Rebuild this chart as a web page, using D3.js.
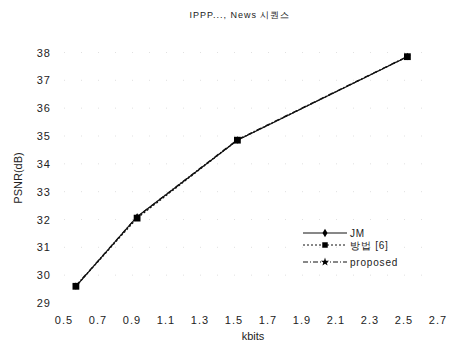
<!DOCTYPE html>
<html>
<head>
<meta charset="utf-8">
<script src="https://cdn.jsdelivr.net/npm/d3@7"></script>
<style>
  body { margin: 0; background: #fff; }
  text { font-family: "Liberation Sans", Arial, sans-serif; fill: #222; }
</style>
</head>
<body>
<div id="chartbox"></div>
<script>
const kbits = [0.57, 0.93, 1.52, 2.52]
const jm = [29.6, 32.1, 34.85, 37.85]
const method6 = [29.6, 32.05, 34.85, 37.85]
const proposed = [29.62, 32.1, 34.87, 37.86]
const xTicks = [0.5, 0.7, 0.9, 1.1, 1.3, 1.5, 1.7, 1.9, 2.1, 2.3, 2.5, 2.7]
const yTicks = [29, 30, 31, 32, 33, 34, 35, 36, 37, 38]
const seriesNames = ['JM', '방법 [6]', 'proposed']

const svg = d3.select('#chartbox')
  .append('svg')
  .attr('width', 458)
  .attr('height', 343)

const x = d3.scaleLinear().domain([0.5, 2.7]).range([64, 438])
const y = d3.scaleLinear().domain([29, 38]).range([303, 52.5])

// faint dotted grid, like the scan
svg.append('g')
  .selectAll('line')
  .data(yTicks.slice(1))
  .enter()
  .append('line')
  .attr('x1', x(0.5))
  .attr('x2', x(2.7))
  .attr('y1', d => y(d))
  .attr('y2', d => y(d))
  .attr('stroke', '#ccc')
  .attr('stroke-width', 0.6)
  .attr('stroke-dasharray', '1,16')

// title
svg.append('text')
  .attr('x', 240)
  .attr('y', 18)
  .attr('text-anchor', 'middle')
  .attr('font-size', 9)
  .attr('letter-spacing', 1)
  .attr('fill', '#444')
  .text('IPPP..., News 시퀀스')

// y tick labels
svg.append('g')
  .selectAll('text')
  .data(yTicks)
  .enter()
  .append('text')
  .attr('x', 51)
  .attr('y', d => y(d) + 4)
  .attr('text-anchor', 'end')
  .attr('font-size', 11)
  .attr('letter-spacing', 1)
  .text(d => d)

// x tick labels
svg.append('g')
  .selectAll('text')
  .data(xTicks)
  .enter()
  .append('text')
  .attr('x', d => x(d))
  .attr('y', 324)
  .attr('text-anchor', 'middle')
  .attr('font-size', 11)
  .attr('letter-spacing', 1)
  .text(d => d.toFixed(1))

svg.append('text')
  .attr('x', 253)
  .attr('y', 340)
  .attr('text-anchor', 'middle')
  .attr('font-size', 11)
  .text('kbits')

svg.append('text')
  .attr('transform', 'translate(22,178) rotate(-90)')
  .attr('text-anchor', 'middle')
  .attr('font-size', 11)
  .text('PSNR(dB)')

const line = d3.line()
  .x(d => x(d[0]))
  .y(d => y(d[1]))

const series = [
  { name: seriesNames[0], values: jm, dash: null, marker: 'diamond' },
  { name: seriesNames[1], values: method6, dash: '2,2', marker: 'square' },
  { name: seriesNames[2], values: proposed, dash: '5,2,1,2', marker: 'star' }
]

const symbolOf = m => m === 'diamond' ? d3.symbolDiamond : m === 'square' ? d3.symbolSquare : d3.symbolStar

series.forEach(s => {
  svg.append('path')
    .datum(kbits.map((k, i) => [k, s.values[i]]))
    .attr('d', line)
    .attr('fill', 'none')
    .attr('stroke', '#111')
    .attr('stroke-width', 1.2)
    .attr('stroke-dasharray', s.dash)
})

// markers: squares drawn last, they cover the others in the picture
;[series[0], series[2], series[1]].forEach(s => {
  svg.append('g')
    .selectAll('path')
    .data(kbits.map((k, i) => [k, s.values[i]]))
    .enter()
    .append('path')
    .attr('transform', d => 'translate(' + x(d[0]) + ',' + y(d[1]) + ')')
    .attr('d', d3.symbol().type(symbolOf(s.marker)).size(s.marker === 'square' ? 46 : 14))
    .attr('fill', '#000')
})

// legend
const legend = svg.append('g')
  .selectAll('g')
  .data(series)
  .enter()
  .append('g')
  .attr('transform', (d, i) => 'translate(303,' + [233, 245, 262][i] + ')')

legend.append('line')
  .attr('x1', 0)
  .attr('x2', 44)
  .attr('stroke', '#111')
  .attr('stroke-width', 1)
  .attr('stroke-dasharray', d => d.dash)

legend.append('path')
  .attr('transform', 'translate(22,0)')
  .attr('d', d => d3.symbol().type(symbolOf(d.marker)).size(d.marker === 'square' ? 30 : 22)())
  .attr('fill', '#000')

legend.append('text')
  .attr('x', 47)
  .attr('y', 4)
  .attr('font-size', 10)
  .attr('letter-spacing', 0.8)
  .text(d => d.name)
</script>
</body>
</html>
